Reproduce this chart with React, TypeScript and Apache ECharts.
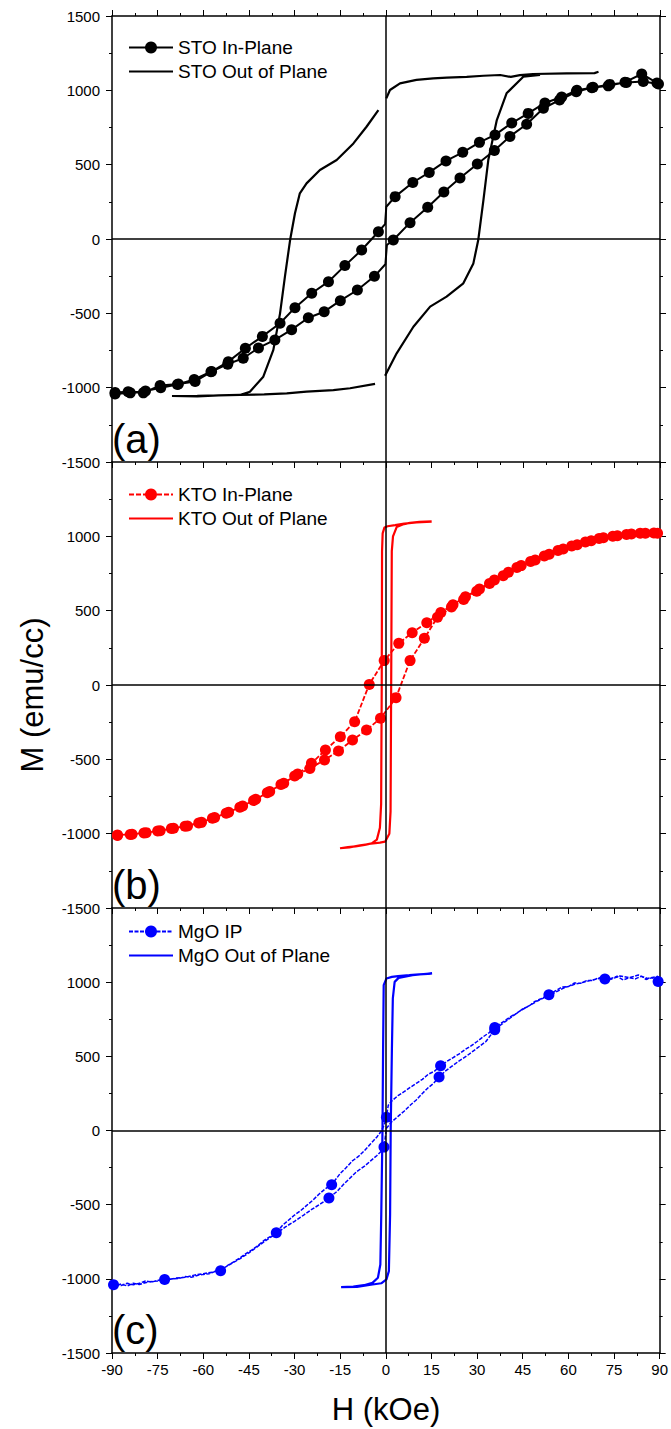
import React, { useEffect, useRef } from "react";
import * as echarts from "echarts";

const FONT = "'Liberation Sans', Arial, Helvetica, sans-serif";

const H_MIN = -90;
const H_MAX = 90;
const H_STEP = 15;
const M_MIN = -1500;
const M_MAX = 1500;
const M_STEP = 500;

const PANEL_LABELS = ["(a)", "(b)", "(c)"];
const X_NAME = "H (kOe)";
const Y_NAME = "M (emu/cc)";

const NAMES = [
  ["STO In-Plane", "STO Out of Plane"],
  ["KTO In-Plane", "KTO Out of Plane"],
  ["MgO IP", "MgO Out of Plane"],
];
const COLORS = ["#000000", "#ff0000", "#0000ff"];

// ---------- (a) STO ----------
const STO_IP_DOWN: (number | null)[][] = [
  [89, 1050], [84, 1110], [78.5, 1055], [73, 1030], [67.6, 1018], [62.7, 1000],
  [57.7, 955], [52.2, 915], [46.7, 845], [41.3, 780], [35.8, 700], [30.7, 650],
  [25.2, 583], [19.7, 525], [14.2, 448], [8.8, 380], [3.0, 285], [0.1, 217, 0],
  [-0.3, 100, 0], [-2.5, 49], [-8.0, -74], [-13.5, -179], [-18.9, -287],
  [-24.4, -365], [-29.9, -462], [-34.8, -567], [-40.6, -655], [-46.2, -735],
  [-51.8, -825], [-57.3, -892], [-62.7, -958], [-68.2, -975], [-74.2, -985],
  [-79.7, -1035], [-84.7, -1027], [-89, -1032],
];
const STO_IP_UP: (number | null)[][] = [
  [-89, -1042], [-84, -1035], [-79, -1022], [-74, -1000], [-68.5, -978],
  [-63, -945], [-57.5, -893], [-52, -842], [-46.9, -802], [-41.9, -733],
  [-36.5, -679], [-31, -610], [-25.5, -530], [-20.3, -489], [-15, -415],
  [-9.4, -343], [-3.8, -251], [-0.2, -170, 0], [0.3, -40, 0], [2.4, -7],
  [7.9, 110], [13.7, 213], [19, 316], [24.3, 410], [30, 505], [35.6, 595],
  [40.7, 690], [46.2, 772], [51.7, 879], [57, 935], [62.5, 990], [68, 1020],
  [73.5, 1040], [79, 1052], [84.5, 1060], [89.5, 1042],
];
const STO_OOP_DOWN: (number | null)[][] = [
  [69.8, 1125], [68.5, 1116], [59.4, 1114], [48.3, 1110], [44, 1102], [41, 1090],
  [37.5, 1103], [32, 1098], [26.5, 1091], [20, 1086], [15.5, 1081], [10, 1070],
  [4.6, 1047], [1.3, 1002], [0.1, 946], [null, null], [-2.5, 867], [-6.4, 755],
  [-10.7, 643], [-16.2, 531], [-21.7, 464], [-26.1, 374], [-28.3, 307],
  [-29.9, 173], [-31.5, -7], [-33.2, -253], [-34.8, -500], [-37, -746],
  [-40.3, -926], [-44.7, -1027], [-48, -1049], [-55, -1052], [-62, -1055],
  [-70.3, -1056],
];
const STO_OOP_UP: (number | null)[][] = [
  [-70.3, -1060], [-62, -1058], [-55, -1052], [-48, -1049], [-40, -1045],
  [-32.6, -1038], [-26.1, -1027], [-17.3, -1016], [-11.8, -1004], [-3.6, -975],
  [null, null], [-0.3, -920], [3.5, -769], [9.0, -590], [14.5, -455],
  [19.9, -388], [25.4, -298], [28.7, -164], [30.3, -7], [32.0, 262],
  [33.6, 531], [36.4, 800], [39.6, 980], [45.1, 1092], [50.6, 1103],
];

// ---------- (b) KTO ----------
const KTO_IP_DOWN: (number | null)[][] = [
  [89.2, 1020], [85.2, 1020], [80.6, 1016], [76, 1004], [71.4, 991], [67.4, 971],
  [62.8, 944], [58.2, 915], [53.6, 879], [49, 841], [44.4, 803], [40.2, 758],
  [35.6, 706], [30.7, 646], [26.1, 594], [22, 540], [18, 487], [13.4, 419],
  [8.6, 352], [4.2, 280], [-0.6, 164], [-5.5, 4], [-10.3, -247], [-15, -348],
  [-19.9, -437], [-24.5, -527], [-29, -599], [-33.6, -661], [-38.2, -717],
  [-42.8, -769], [-47.1, -814], [-51.7, -856], [-56.3, -892], [-60.6, -924],
  [-65.2, -948], [-69.8, -964], [-74.2, -980], [-78.8, -993], [-83.4, -1004],
  [-88.2, -1009],
];
const KTO_IP_UP: (number | null)[][] = [
  [-88.2, -1012], [-84, -1006], [-79.5, -995], [-75, -982], [-70.5, -966],
  [-66, -950], [-61.5, -928], [-57, -897], [-52.5, -862], [-48, -822],
  [-43.5, -777], [-39, -725], [-34.5, -670], [-30, -612], [-25, -561],
  [-20.2, -504], [-15.6, -444], [-11, -370], [-6.4, -303], [-1.8, -224],
  [3.3, -85], [7.9, 164], [12.6, 314], [16.9, 455], [21.5, 525], [25.5, 575],
  [29.8, 630], [34, 683], [38.5, 735], [43, 790], [47.5, 830], [52, 868],
  [56.5, 905], [61, 935], [65.5, 962], [70, 985], [74.5, 1000], [79, 1012],
  [83.5, 1020], [88, 1022],
];
const KTO_OOP_DOWN: (number | null)[][] = [
  [15, 1098], [10, 1093], [6, 1085], [3, 1075], [0.5, 1068], [-0.5, 1060],
  [-1.1, 1020], [-1.3, 900], [-1.4, 0], [-1.6, -800], [-2, -960], [-3, -1040],
  [-4.7, -1065], [-7, -1075], [-10, -1085], [-12.5, -1090], [-15.1, -1098],
];
const KTO_OOP_UP: (number | null)[][] = [
  [-15.1, -1098], [-12, -1092], [-8.5, -1078], [-5, -1068], [-2, -1060],
  [-0.3, -1054], [1.1, -1000], [1.5, -850], [1.7, 0], [1.9, 900], [2.3, 1000],
  [3.5, 1062], [5.5, 1080], [7.9, 1091], [11, 1097], [15, 1100],
];

// ---------- (c) MgO ----------  third value: 1 = marker drawn
const MGO_IP_DOWN: number[][] = [
  [89.5, 1005, 1], [87.5, 1030, 0], [85.5, 1018, 0], [84, 1040, 0], [82, 1022, 0],
  [80, 1030, 0], [78, 1015, 0], [76, 1040, 0], [74, 1025, 0], [72, 1022, 1],
  [70, 1030, 0], [68, 1012, 0], [66, 1010, 0], [64, 992, 0], [62, 995, 0],
  [60, 970, 0], [58, 968, 0], [56, 945, 0], [53.6, 915, 1], [51, 888, 0],
  [49, 870, 0], [47, 838, 0], [45, 820, 0], [43, 790, 0], [41, 768, 0],
  [39, 738, 0], [37, 712, 0], [35.8, 695, 1], [34, 660, 0], [32, 632, 0],
  [30, 600, 0], [28, 570, 0], [26, 545, 0], [24, 515, 0], [22, 490, 0],
  [20, 465, 0], [18, 437, 1], [16, 400, 0], [14, 380, 0], [12, 345, 0],
  [10, 318, 0], [8, 290, 0], [6, 262, 0], [4, 235, 0], [2, 200, 0],
  [0.8, 170, 0], [0.2, 90, 1], [-0.5, 40, 0], [-1.5, -5, 0], [-3, -45, 0],
  [-5, -90, 0], [-7, -135, 0], [-9, -175, 0], [-11, -205, 0], [-13, -250, 0],
  [-15, -290, 0], [-17.8, -365, 1], [-20, -395, 0], [-22, -430, 0],
  [-24, -470, 0], [-26, -505, 0], [-28, -540, 0], [-30, -570, 0],
  [-32, -605, 0], [-34, -640, 0], [-36, -690, 1], [-38, -715, 0],
  [-40, -740, 0], [-42, -775, 0], [-44, -805, 0], [-46, -830, 0],
  [-48, -860, 0], [-50, -885, 0], [-52, -910, 0], [-54.3, -945, 1],
  [-56, -950, 0], [-58, -965, 0], [-60, -970, 0], [-62, -978, 0],
  [-64, -990, 0], [-66, -985, 0], [-68, -998, 0], [-70, -1000, 0],
  [-72.7, -1005, 1], [-75, -1010, 0], [-77, -1022, 0], [-79, -1015, 0],
  [-81, -1030, 0], [-83, -1040, 0], [-85, -1030, 0], [-87, -1045, 0],
  [-89.5, -1040, 1],
];
const MGO_IP_UP: number[][] = [
  [-89.5, -1050, 0], [-87, -1035, 0], [-85, -1048, 0], [-83, -1030, 0],
  [-81, -1038, 0], [-78, -1020, 0], [-75, -1015, 0], [-72, -1008, 0],
  [-69, -995, 0], [-66, -990, 0], [-63, -975, 0], [-60, -965, 0],
  [-57, -955, 0], [-54, -935, 0], [-51, -900, 0], [-48, -865, 0],
  [-45, -825, 0], [-42, -780, 0], [-39, -735, 0], [-36, -695, 0],
  [-33, -650, 0], [-30, -612, 0], [-27, -570, 0], [-24.5, -534, 0],
  [-21.5, -495, 0], [-18.7, -455, 1], [-16, -410, 0], [-14, -365, 0],
  [-12, -325, 0], [-9.5, -276, 0], [-7, -240, 0], [-5, -205, 0],
  [-3, -170, 0], [-1.5, -140, 0], [-0.6, -112, 1], [0.2, 15, 0], [2, 60, 0],
  [4, 95, 0], [6, 130, 0], [8, 170, 0], [10, 206, 0], [12, 250, 0],
  [14, 290, 0], [15.7, 318, 0], [17.5, 360, 1], [19.5, 400, 0], [21.5, 430, 0],
  [24, 468, 0], [27, 509, 0], [30, 555, 0], [32.9, 600, 0], [35.8, 680, 1],
  [38, 715, 0], [41, 760, 0], [44, 805, 0], [47, 840, 0], [50, 875, 0],
  [53, 905, 0], [56, 935, 0], [59, 965, 0], [62, 985, 0], [65, 1000, 0],
  [68, 1015, 0], [71, 1030, 0], [74, 1020, 0], [77, 1042, 0], [80, 1030, 0],
  [83, 1048, 0], [86, 1025, 0], [89.5, 1040, 0],
];
const MGO_OOP_DOWN: number[][] = [
  [15.2, 1058], [11, 1053], [7.7, 1047], [4, 1041], [2, 1036], [0.2, 1025],
  [-0.7, 980], [-0.9, 554], [-1.1, 0], [-1.5, -567], [-1.8, -903], [-2.6, -993],
  [-4.4, -1027], [-7.2, -1043], [-10.7, -1052], [-14.7, -1056],
];
const MGO_OOP_UP: number[][] = [
  [-14.7, -1058], [-9.5, -1054], [-4.9, -1040], [-1.5, -1030], [0.2, -1004],
  [1, -948], [1.4, -567], [1.6, 0], [2, 554], [2.3, 890], [2.9, 1002],
  [4.2, 1029], [8.8, 1047], [15.2, 1060],
];

// ---------- layout ----------
const GRID_LEFT = 112;
const GRID_WIDTH = 548;
const GRID_TOPS = [16, 462, 908];
const GRID_HEIGHTS = [446, 446, 445];
const LEGEND_TOPS = [33, 480, 917];
const LABEL_BASELINES = [453, 899, 1344];

function toItems(rows: (number | null)[][]) {
  return rows.map((r) => {
    if (r.length > 2 && r[2] === 0) {
      return { value: [r[0], r[1]], symbol: "none" };
    }
    return [r[0], r[1]];
  });
}

function buildOption() {
  const grid = GRID_TOPS.map((t, i) => ({
    left: GRID_LEFT,
    top: t,
    width: GRID_WIDTH,
    height: GRID_HEIGHTS[i],
    containLabel: false,
  }));
  const axisLine = { show: true, onZero: false, lineStyle: { color: "#000", width: 1.5 } };
  const tick = { show: true, inside: false, length: 6, lineStyle: { color: "#000", width: 1 } };
  const minor = { show: true, splitNumber: 2, length: 3, lineStyle: { color: "#000", width: 1 } };
  const plain = (v: number) => String(v);
  const xAxis: any[] = [0, 1, 2].map((i) => ({
    gridIndex: i,
    type: "value",
    min: H_MIN,
    max: H_MAX,
    interval: H_STEP,
    position: "bottom",
    axisLine,
    axisTick: tick,
    minorTick: minor,
    splitLine: { show: false },
    minorSplitLine: { show: false },
    axisLabel: {
      show: i === 2,
      color: "#000",
      fontSize: 15,
      fontFamily: FONT,
      margin: 9,
      formatter: plain,
    },
  }));
  xAxis.push({
    gridIndex: 0,
    type: "value",
    min: H_MIN,
    max: H_MAX,
    interval: H_STEP,
    position: "top",
    axisLine,
    axisTick: tick,
    minorTick: minor,
    splitLine: { show: false },
    axisLabel: { show: false },
  });
  const yAxis: any[] = [];
  [0, 1, 2].forEach((i) => {
    yAxis.push({
      gridIndex: i,
      type: "value",
      min: M_MIN,
      max: M_MAX,
      interval: M_STEP,
      position: "left",
      axisLine,
      axisTick: tick,
      minorTick: minor,
      splitLine: { show: false },
      axisLabel: {
        color: "#000",
        fontSize: 15,
        fontFamily: FONT,
        margin: 12,
        showMaxLabel: i === 0,
        formatter: plain,
      },
    });
  });
  [0, 1, 2].forEach((i) => {
    yAxis.push({
      gridIndex: i,
      type: "value",
      min: M_MIN,
      max: M_MAX,
      interval: M_STEP,
      position: "right",
      axisLine,
      axisTick: tick,
      minorTick: minor,
      splitLine: { show: false },
      axisLabel: { show: false },
    });
  });

  const zeroLines = {
    silent: true,
    symbol: ["none", "none"],
    label: { show: false },
    lineStyle: { color: "#000", width: 1.5, type: "solid" },
    emphasis: { disabled: true },
    data: [{ yAxis: 0 }, { xAxis: 0 }],
  };

  const ipData = [
    toItems([...STO_IP_DOWN, ...STO_IP_UP]),
    toItems([...KTO_IP_DOWN, ...KTO_IP_UP]),
    toItems([...MGO_IP_DOWN, ...MGO_IP_UP]),
  ];
  const oopData = [
    toItems([...STO_OOP_DOWN, ...STO_OOP_UP]),
    toItems([...KTO_OOP_DOWN, ...KTO_OOP_UP]),
    toItems([...MGO_OOP_DOWN, ...MGO_OOP_UP]),
  ];
  const ipLine = [
    { width: 2, type: "solid" },
    { width: 1.8, type: [5, 2] },
    { width: 1.5, type: [4, 1.5] },
  ];

  const series: any[] = [];
  [0, 1, 2].forEach((i) => {
    series.push({
      name: NAMES[i][1],
      type: "line",
      xAxisIndex: i,
      yAxisIndex: i,
      data: oopData[i],
      symbol: "none",
      connectNulls: false,
      lineStyle: { color: COLORS[i], width: 2.2 },
      itemStyle: { color: COLORS[i] },
      markLine: zeroLines,
      z: 2,
    });
    series.push({
      name: NAMES[i][0],
      type: "line",
      xAxisIndex: i,
      yAxisIndex: i,
      data: ipData[i],
      symbol: "circle",
      symbolSize: 11,
      showSymbol: true,
      showAllSymbol: true,
      lineStyle: { color: COLORS[i], ...ipLine[i] },
      itemStyle: { color: COLORS[i] },
      z: 3,
    });
  });

  const legend = [0, 1, 2].map((i) => ({
    data: [
      { name: NAMES[i][0] },
      { name: NAMES[i][1], itemStyle: { opacity: 0 } },
    ],
    orient: "vertical",
    left: 123,
    top: LEGEND_TOPS[i],
    itemWidth: 44,
    itemHeight: 15,
    itemGap: 5,
    selectedMode: false,
    textStyle: { color: "#000", fontSize: 19, fontFamily: FONT, lineHeight: 19 },
  }));

  const graphic: any[] = PANEL_LABELS.map((t, i) => ({
    type: "text",
    x: 112,
    y: LABEL_BASELINES[i] - 14,
    silent: true,
    style: {
      text: t,
      font: `40px ${FONT}`,
      fill: "#000",
      textAlign: "left",
      textVerticalAlign: "middle",
    },
  }));
  graphic.push({
    type: "text",
    x: 386,
    y: 1409,
    silent: true,
    style: {
      text: X_NAME,
      font: `31px ${FONT}`,
      fill: "#000",
      textAlign: "center",
      textVerticalAlign: "middle",
    },
  });
  graphic.push({
    type: "text",
    x: 32,
    y: 695,
    rotation: Math.PI / 2,
    silent: true,
    style: {
      text: Y_NAME,
      font: `31px ${FONT}`,
      fill: "#000",
      textAlign: "center",
      textVerticalAlign: "middle",
    },
  });

  return {
    animation: false,
    backgroundColor: "#fff",
    grid,
    xAxis,
    yAxis,
    legend,
    series,
    graphic,
  };
}

export default function App() {
  const ref = useRef<HTMLDivElement>(null);
  useEffect(() => {
    if (!ref.current) return;
    const chart = echarts.init(ref.current, null, { renderer: "svg" });
    chart.setOption(buildOption() as any);
    return () => chart.dispose();
  }, []);
  return (
    <div
      ref={ref}
      style={{ position: "fixed", left: 0, top: 0, width: 671, height: 1429, background: "#fff" }}
    />
  );
}
